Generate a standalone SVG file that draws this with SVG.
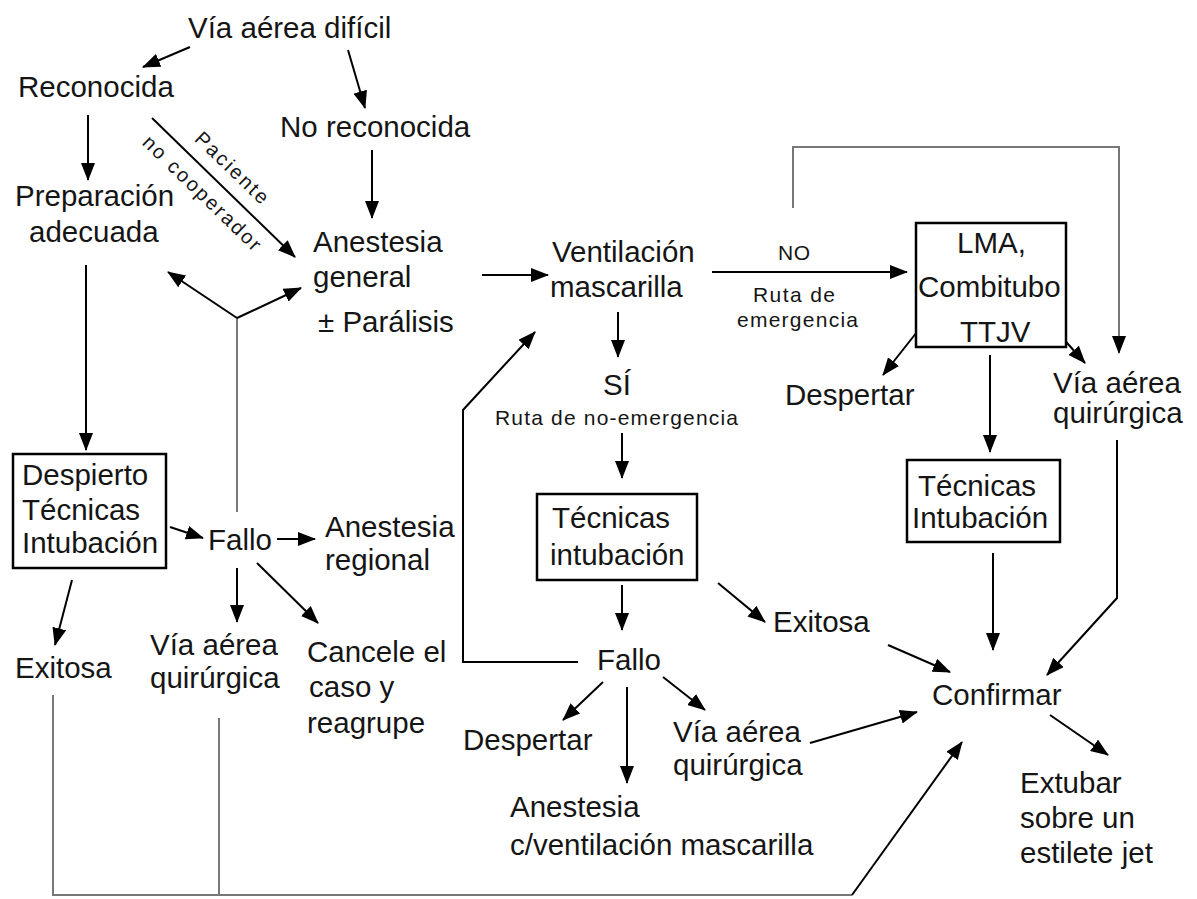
<svg xmlns="http://www.w3.org/2000/svg" width="1197" height="899" viewBox="0 0 1197 899">
<defs>
<marker id="ah" markerWidth="18" markerHeight="14" refX="17" refY="7" orient="auto" markerUnits="userSpaceOnUse"><path d="M0,0 L18,7 L0,14 z" fill="#000"/></marker>
<style>
text{font-family:"Liberation Sans",Arial,sans-serif;font-size:29.5px;fill:#151515}
.s{font-size:21px}
.r{font-size:20px}
.box{fill:#fff;stroke:#000;stroke-width:2.5}
.c{fill:none;stroke:#000;stroke-width:2}
.g{fill:none;stroke:#777;stroke-width:2}
.a{marker-end:url(#ah)}
</style>
</defs>
<rect width="1197" height="899" fill="#fff"/>
<g id="connectors">
<line class="c a" x1="190" y1="47" x2="143" y2="67"/>
<line class="c a" x1="348" y1="50" x2="365" y2="108"/>
<line class="c a" x1="88" y1="115" x2="88" y2="180"/>
<line class="c a" x1="152" y1="118" x2="295" y2="257"/>
<line class="c a" x1="372" y1="150" x2="372" y2="218"/>
<line class="c a" x1="86" y1="265" x2="86" y2="450"/>
<line class="g" x1="237" y1="512" x2="237" y2="318"/>
<line class="c a" x1="237" y1="318" x2="168" y2="272"/>
<line class="c a" x1="237" y1="318" x2="301" y2="288"/>
<line class="c a" x1="170" y1="527" x2="203" y2="538"/>
<line class="c a" x1="277" y1="539" x2="315" y2="539"/>
<line class="c a" x1="237" y1="568" x2="237" y2="622"/>
<line class="c a" x1="257" y1="563" x2="318" y2="623"/>
<line class="c a" x1="72" y1="580" x2="55" y2="645"/>
<polyline class="g" points="53,695 53,895 852,895"/>
<line class="g" x1="219" y1="718" x2="219" y2="895"/>
<line class="c a" x1="852" y1="895" x2="962" y2="742"/>
<line class="c a" x1="482" y1="275" x2="548" y2="275"/>
<line class="c a" x1="712" y1="272" x2="907" y2="272"/>
<line class="c a" x1="618" y1="312" x2="618" y2="357"/>
<line class="c a" x1="622" y1="433" x2="622" y2="478"/>
<line class="c a" x1="622" y1="585" x2="622" y2="630"/>
<polyline class="c a" points="578,662 463,662 463,410 535,332"/>
<line class="c a" x1="718" y1="583" x2="765" y2="622"/>
<line class="c a" x1="603" y1="682" x2="563" y2="720"/>
<line class="c a" x1="627" y1="687" x2="627" y2="783"/>
<line class="c a" x1="663" y1="677" x2="705" y2="710"/>
<line class="c a" x1="810" y1="743" x2="917" y2="712"/>
<line class="c a" x1="888" y1="645" x2="950" y2="672"/>
<line class="c a" x1="993" y1="553" x2="993" y2="650"/>
<polyline class="c a" points="1117,440 1117,598 1047,675"/>
<line class="c a" x1="1050" y1="715" x2="1108" y2="755"/>
<line class="c a" x1="928" y1="318" x2="883" y2="375"/>
<line class="c a" x1="1042" y1="315" x2="1085" y2="363"/>
<line class="c a" x1="990" y1="355" x2="990" y2="452"/>
<polyline class="g a" points="793,208 793,147 1119,147 1119,353"/>
</g>
<g id="edge-labels">
<g transform="translate(152,118) rotate(44)">
<text class="r" x="45" y="-13" textLength="94">Paciente</text>
<text class="r" x="10" y="26" textLength="156">no cooperador</text>
</g>
<text class="s" x="778" y="260" textLength="32">NO</text>
<text class="s" x="753" y="302" textLength="82">Ruta de</text>
<text class="s" x="737" y="327" textLength="121">emergencia</text>
<text x="603" y="395">SÍ</text>
<text class="s" x="495" y="425" textLength="243">Ruta de no-emergencia</text>
</g>
<g id="n-via-dificil"><text x="188" y="38">Vía aérea difícil</text></g>
<g id="n-reconocida"><text x="18" y="97">Reconocida</text></g>
<g id="n-no-reconocida"><text x="280" y="137">No reconocida</text></g>
<g id="n-preparacion"><text x="15" y="206">Preparación</text><text x="29" y="242">adecuada</text></g>
<g id="n-anestesia-general"><text x="313" y="252">Anestesia</text><text x="313" y="287">general</text><text x="318" y="332">± Parálisis</text></g>
<g id="n-ventilacion"><text x="552" y="262">Ventilación</text><text x="550" y="297">mascarilla</text></g>
<g id="n-lma"><rect class="box" x="916" y="223" width="150" height="124"/><text x="957" y="253">LMA,</text><text x="918" y="297">Combitubo</text><text x="960" y="342">TTJV</text></g>
<g id="n-despertar-r"><text x="785" y="405">Despertar</text></g>
<g id="n-via-quir-r"><text x="1053" y="393">Vía aérea</text><text x="1053" y="423">quirúrgica</text></g>
<g id="n-tecnicas-r"><rect class="box" x="907" y="460" width="153" height="82"/><text x="918" y="496">Técnicas</text><text x="912" y="528">Intubación</text></g>
<g id="n-despierto"><rect class="box" x="13" y="454" width="153" height="114"/><text x="22" y="485">Despierto</text><text x="22" y="520">Técnicas</text><text x="22" y="553">Intubación</text></g>
<g id="n-fallo-l"><text x="208" y="550">Fallo</text></g>
<g id="n-anestesia-regional"><text x="325" y="537">Anestesia</text><text x="325" y="570">regional</text></g>
<g id="n-exitosa-l"><text x="15" y="678">Exitosa</text></g>
<g id="n-via-quir-l"><text x="150" y="655">Vía aérea</text><text x="150" y="688">quirúrgica</text></g>
<g id="n-cancele"><text x="307" y="662">Cancele el</text><text x="309" y="697">caso y</text><text x="307" y="733">reagrupe</text></g>
<g id="n-tecnicas-c"><rect class="box" x="537" y="494" width="160" height="86"/><text x="552" y="528">Técnicas</text><text x="550" y="565">intubación</text></g>
<g id="n-exitosa-c"><text x="773" y="632">Exitosa</text></g>
<g id="n-fallo-c"><text x="597" y="670">Fallo</text></g>
<g id="n-despertar-c"><text x="463" y="750">Despertar</text></g>
<g id="n-via-quir-c"><text x="673" y="742">Vía aérea</text><text x="673" y="775">quirúrgica</text></g>
<g id="n-anestesia-vent"><text x="510" y="817">Anestesia</text><text x="510" y="855">c/ventilación mascarilla</text></g>
<g id="n-confirmar"><text x="932" y="705">Confirmar</text></g>
<g id="n-extubar"><text x="1020" y="793">Extubar</text><text x="1020" y="828">sobre un</text><text x="1020" y="863">estilete jet</text></g>
</svg>
